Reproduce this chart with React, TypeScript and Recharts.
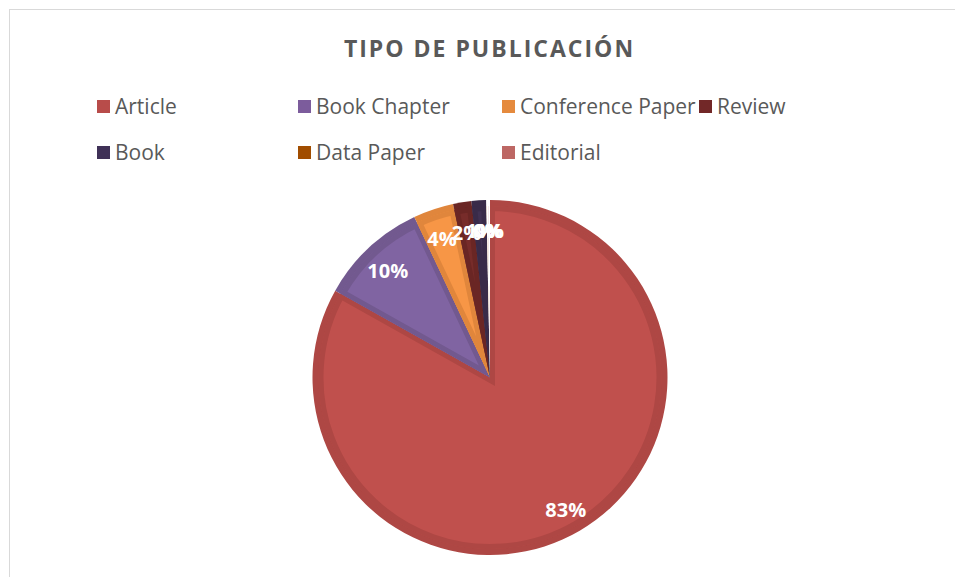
import { PieChart, Pie, Cell, Legend, Sector } from 'recharts';

const categories = ['Article', 'Book Chapter', 'Conference Paper', 'Review', 'Book', 'Data Paper', 'Editorial'];
const counts = [498, 59, 22, 10, 8, 1, 1];

const FILL = ['#c0504d', '#8064a2', '#f79646', '#772c2a', '#403152', '#a04d06', '#c0676a'];
const EDGE = ['#ae4744', '#72598f', '#e0863c', '#6a2624', '#392b49', '#ffffff', '#ffffff'];
const SWATCH = ['#b84c4a', '#7c5c9c', '#e58a3d', '#722828', '#3f3157', '#a14d00', '#bd6764'];

// legend columns as Excel laid them out
const LEGEND_POS = [
  { left: 97, top: 106 },
  { left: 298, top: 106 },
  { left: 502, top: 106 },
  { left: 699, top: 106 },
  { left: 97, top: 152 },
  { left: 298, top: 152 },
  { left: 502, top: 152 },
];

const data = categories.map((name, i) => ({ name, value: counts[i] }));

const FONT = '"Open Sans", "Noto Sans", sans-serif';
const RAD = Math.PI / 180;

function SliceShape(props: any) {
  const { cx, cy, outerRadius, startAngle, endAngle, index } = props;
  const inner = outerRadius - 6;
  const id = `slice-clip-${index}`;
  return (
    <g>
      <defs>
        <clipPath id={id}>
          <Sector cx={cx} cy={cy} innerRadius={0} outerRadius={inner} startAngle={startAngle} endAngle={endAngle} />
        </clipPath>
      </defs>
      <Sector cx={cx} cy={cy} innerRadius={0} outerRadius={outerRadius} startAngle={startAngle} endAngle={endAngle} fill={EDGE[index]} />
      <Sector
        cx={cx}
        cy={cy}
        innerRadius={0}
        outerRadius={inner}
        startAngle={startAngle}
        endAngle={endAngle}
        fill={FILL[index]}
        stroke={EDGE[index]}
        strokeWidth={10}
        clipPath={`url(#${id})`}
      />
    </g>
  );
}

function renderLabel(props: any) {
  const { cx, cy, midAngle, percent } = props;
  const r = 150;
  const x = cx + r * Math.cos(-midAngle * RAD);
  const y = cy + r * Math.sin(-midAngle * RAD) + 3;
  return (
    <text
      x={x}
      y={y}
      fill="#ffffff"
      textAnchor="middle"
      dominantBaseline="central"
      style={{ fontFamily: FONT, fontSize: 20, fontWeight: 700 }}
    >
      {`${Math.round(percent * 100)}%`}
    </text>
  );
}

function renderLegend() {
  return (
    <div style={{ position: 'relative', width: 955, height: 180 }}>
      {categories.map((name, i) => (
        <div
          key={name}
          style={{
            position: 'absolute',
            left: LEGEND_POS[i].left,
            top: LEGEND_POS[i].top - 14,
            height: 28,
            display: 'flex',
            alignItems: 'center',
            whiteSpace: 'nowrap',
          }}
        >
          <span style={{ width: 13, height: 13, background: SWATCH[i], marginRight: 5, display: 'inline-block' }} />
          <span style={{ fontFamily: FONT, fontSize: 21, color: '#595959' }}>{name}</span>
        </div>
      ))}
    </div>
  );
}

export default function App() {
  return (
    <div style={{ position: 'fixed', left: 0, top: 0, width: 955, height: 577, overflow: 'hidden', background: '#fff' }}>
      <div
        style={{
          position: 'absolute',
          left: 9,
          top: 9,
          width: 980,
          height: 600,
          border: '1px solid #d9d9d9',
        }}
      />
      <div
        style={{
          position: 'absolute',
          left: 0,
          top: 32,
          width: 979,
          textAlign: 'center',
          fontFamily: FONT,
          fontSize: 23,
          fontWeight: 700,
          letterSpacing: 2,
          color: '#595959',
          lineHeight: '32px',
        }}
      >
        TIPO DE PUBLICACIÓN
      </div>
      <div style={{ position: 'absolute', left: 0, top: 0 }}>
        <PieChart width={955} height={577} margin={{ top: 0, right: 0, bottom: 0, left: 0 }}>
          <Legend
            content={renderLegend}
            wrapperStyle={{ position: 'absolute', left: 0, top: 0, width: 955 }}
          />
          <Pie
            data={data}
            dataKey="value"
            nameKey="name"
            cx={490}
            cy={377.5}
            innerRadius={0}
            outerRadius={177.5}
            startAngle={90}
            endAngle={-270}
            stroke="none"
            shape={SliceShape}
            label={renderLabel}
            labelLine={false}
            isAnimationActive={false}
          >
            {data.map((d, i) => (
              <Cell key={d.name} fill={FILL[i]} />
            ))}
          </Pie>
        </PieChart>
      </div>
    </div>
  );
}
